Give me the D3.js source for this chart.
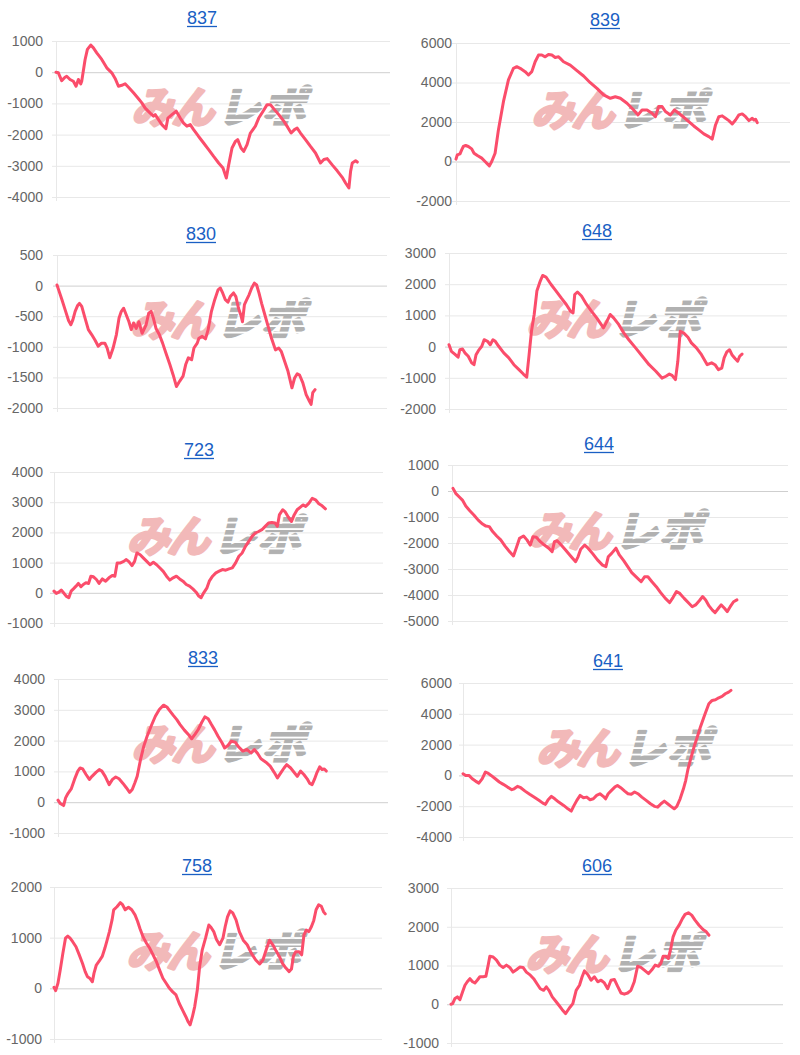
<!DOCTYPE html>
<html>
<head>
<meta charset="utf-8">
<script src="https://cdn.jsdelivr.net/npm/d3@7"></script>
<style>
  html, body { margin: 0; padding: 0; background: #fff; }
  svg { display: block; }
</style>
</head>
<body>
<svg id="chart" width="800" height="1055"></svg>
<script>
// ---------- DATA ----------
const titles = ["837", "839", "830", "648", "723", "644", "833", "641", "758", "606"];

const ticks837 = [1000, 0, -1000, -2000, -3000, -4000];
const ticks839 = [6000, 4000, 2000, 0, -2000];
const ticks830 = [500, 0, -500, -1000, -1500, -2000];
const ticks648 = [3000, 2000, 1000, 0, -1000, -2000];
const ticks723 = [4000, 3000, 2000, 1000, 0, -1000];
const ticks644 = [1000, 0, -1000, -2000, -3000, -4000, -5000];
const ticks833 = [4000, 3000, 2000, 1000, 0, -1000];
const ticks641 = [6000, 4000, 2000, 0, -2000, -4000];
const ticks758 = [2000, 1000, 0, -1000];
const ticks606 = [3000, 2000, 1000, 0, -1000];

// [progress (0-1000), balance]
const s837 = [[0,0],[7,-20],[17,-270],[27,-160],[32,-130],[42,-235],[52,-290],[60,-450],[67,-235],[74,-375],[77,-290],[87,400],[94,730],[104,870],[112,780],[122,620],[137,410],[152,140],[167,-20],[177,-200],[187,-450],[197,-420],[207,-370],[217,-480],[232,-660],[247,-850],[257,-985],[267,-1150],[282,-1310],[292,-1410],[297,-1360],[307,-1520],[317,-1680],[329,-1810],[335,-1470],[347,-1360],[360,-1250],[372,-1470],[382,-1630],[392,-1730],[402,-1680],[412,-1840],[427,-2060],[442,-2270],[457,-2480],[472,-2700],[487,-2910],[500,-3070],[510,-3390],[517,-2970],[527,-2430],[537,-2220],[544,-2160],[554,-2430],[562,-2540],[572,-2320],[582,-1950],[597,-1730],[607,-1470],[620,-1250],[632,-1040],[642,-1040],[654,-1200],[667,-1360],[682,-1570],[694,-1770],[704,-1950],[714,-1840],[722,-1790],[732,-1950],[747,-2160],[762,-2380],[777,-2590],[792,-2910],[802,-2800],[812,-2770],[827,-2970],[842,-3160],[857,-3370],[867,-3550],[877,-3710],[882,-3180],[887,-2910],[897,-2840],[902,-2880]];

const s839 = [[0,120],[4,340],[12,390],[17,590],[22,760],[29,810],[37,760],[47,640],[54,420],[64,300],[77,170],[87,0],[94,-120],[100,-220],[107,0],[117,420],[127,1600],[142,3030],[157,4130],[172,4720],[182,4800],[192,4720],[207,4550],[217,4380],[227,4550],[237,5050],[247,5390],[257,5390],[267,5300],[277,5420],[287,5390],[297,5270],[307,5300],[312,5220],[322,5050],[342,4880],[362,4600],[382,4330],[402,3990],[422,3700],[442,3370],[462,3200],[477,3280],[492,3200],[512,2950],[532,2610],[545,2360],[557,2610],[572,2610],[587,2440],[597,2270],[607,2780],[617,2780],[627,2530],[642,2360],[654,2610],[667,2440],[682,2240],[697,2020],[712,1800],[727,1600],[742,1400],[757,1260],[767,1130],[777,1850],[787,2270],[797,2310],[807,2190],[817,2070],[827,1900],[837,2100],[847,2360],[857,2410],[867,2270],[877,2070],[887,2190],[892,2100],[897,2140],[902,1970]];

const s830 = [[0,10],[5,-70],[15,-230],[25,-400],[35,-570],[42,-640],[48,-560],[55,-420],[62,-330],[68,-290],[75,-340],[85,-530],[95,-720],[105,-800],[115,-890],[125,-990],[135,-940],[145,-940],[152,-1020],[160,-1180],[170,-1020],[180,-800],[188,-530],[195,-420],[202,-370],[210,-480],[218,-590],[225,-720],[232,-610],[240,-700],[248,-590],[258,-780],[270,-640],[278,-450],[285,-420],[292,-530],[300,-700],[310,-800],[320,-940],[330,-1100],[342,-1290],[352,-1460],[362,-1650],[372,-1560],[382,-1480],[390,-1290],[398,-1180],[408,-1210],[415,-1020],[425,-940],[430,-860],[440,-830],[450,-870],[458,-720],[468,-420],[478,-230],[488,-70],[495,-40],[502,-120],[510,-230],[518,-270],[525,-180],[535,-120],[542,-180],[550,-370],[557,-480],[562,-590],[568,-310],[575,-230],[582,-150],[590,-40],[598,40],[605,10],[612,-120],[620,-290],[630,-480],[640,-670],[650,-860],[662,-1050],[672,-1020],[680,-1080],[690,-1240],[700,-1400],[712,-1670],[720,-1510],[728,-1440],[735,-1460],[745,-1590],[755,-1780],[765,-1890],[770,-1940],[775,-1750],[782,-1700]];

const s648 = [[0,60],[7,-150],[17,-240],[27,-340],[32,-100],[40,-75],[47,-200],[57,-310],[67,-520],[74,-580],[80,-260],[87,-130],[97,10],[104,220],[114,170],[122,60],[130,220],[137,170],[147,10],[162,-200],[177,-360],[192,-580],[207,-740],[220,-880],[230,-980],[237,-260],[244,490],[252,1030],[260,1780],[270,2100],[277,2280],[287,2230],[302,1990],[317,1780],[332,1560],[347,1350],[360,1130],[367,1080],[372,1670],[380,1750],[392,1620],[407,1350],[422,1130],[437,920],[450,710],[457,600],[467,810],[477,1030],[487,920],[502,710],[517,440],[532,220],[552,-40],[572,-310],[592,-580],[612,-790],[630,-1010],[642,-950],[652,-880],[660,-920],[670,-1060],[677,-470],[684,490],[694,440],[707,300],[717,120],[732,-40],[747,-260],[764,-580],[777,-520],[787,-580],[797,-740],[807,-690],[814,-360],[822,-170],[830,-100],[837,-260],[847,-390],[854,-470],[860,-310],[867,-240]];

const s723 = [[0,55],[7,-20],[15,20],[22,90],[29,0],[37,-110],[45,-165],[52,55],[59,130],[67,220],[74,310],[82,200],[89,275],[97,330],[105,310],[112,550],[120,530],[129,440],[137,310],[147,460],[157,385],[167,495],[177,570],[185,550],[192,990],[202,990],[212,1040],[219,1100],[227,1040],[237,900],[245,1040],[252,1320],[262,1260],[272,1150],[282,1040],[292,930],[302,1010],[312,930],[322,820],[332,710],[342,550],[352,420],[362,495],[372,550],[382,460],[392,385],[402,275],[412,220],[422,130],[432,20],[440,-110],[447,-165],[455,0],[465,165],[472,385],[482,550],[492,660],[502,715],[512,770],[522,750],[532,790],[542,825],[552,990],[562,1210],[572,1320],[582,1540],[592,1700],[602,1870],[612,1980],[622,2030],[632,2090],[642,2200],[652,2310],[662,2330],[672,2310],[679,2200],[685,2580],[695,2750],[702,2690],[712,2510],[722,2360],[730,2580],[739,2750],[749,2840],[757,2910],[765,2860],[775,2970],[785,3130],[795,3080],[805,2950],[815,2880],[825,2780]];

const s644 = [[3,100],[11,-90],[21,-220],[31,-350],[41,-580],[53,-760],[65,-920],[78,-1120],[91,-1270],[101,-1350],[111,-1370],[121,-1560],[133,-1730],[145,-1880],[158,-2120],[171,-2330],[183,-2500],[191,-2200],[201,-1820],[213,-1730],[223,-1880],[233,-2080],[241,-1760],[251,-1780],[263,-1950],[275,-2080],[288,-2200],[298,-2330],[305,-1950],[313,-1910],[325,-2080],[338,-2270],[353,-2500],[368,-2720],[375,-2530],[383,-2240],[395,-2080],[405,-2200],[418,-2400],[433,-2650],[448,-2850],[458,-2910],[465,-2530],[475,-2400],[488,-2200],[498,-2460],[511,-2680],[523,-2910],[535,-3140],[548,-3300],[563,-3490],[573,-3300],[583,-3300],[595,-3490],[608,-3680],[621,-3910],[635,-4130],[648,-4290],[658,-4090],[668,-3870],[678,-3940],[691,-4130],[705,-4320],[715,-4450],[725,-4380],[736,-4220],[746,-4060],[755,-4190],[765,-4420],[775,-4580],[783,-4680],[793,-4510],[801,-4380],[811,-4510],[819,-4640],[828,-4450],[838,-4260],[848,-4190]];

const s833 = [[0,65],[7,-45],[17,-110],[23,140],[30,280],[40,430],[50,740],[60,1010],[67,1110],[75,1080],[85,900],[95,740],[103,840],[115,970],[125,1060],[133,1010],[143,840],[155,570],[165,740],[175,820],[185,760],[197,610],[207,470],[217,320],[225,410],[233,630],[240,840],[250,1380],[260,1820],[270,2140],[283,2490],[295,2790],[307,3010],[320,3150],[330,3090],[340,2950],[350,2810],[360,2680],[370,2520],[383,2340],[395,2200],[405,2060],[415,2200],[425,2360],[435,2580],[445,2770],[455,2710],[465,2520],[475,2340],[485,2140],[497,1930],[505,1760],[515,1840],[525,1980],[537,1950],[547,1800],[560,1660],[573,1710],[585,1600],[595,1710],[605,1580],[615,1410],[630,1300],[643,1170],[655,970],[665,790],[675,950],[685,1110],[693,1220],[705,1110],[717,950],[725,840],[735,1010],[745,900],[755,760],[763,610],[770,570],[777,740],[785,970],[793,1150],[800,1060],[807,1080],[813,1010]];

const s641 = [[0,110],[8,0],[18,0],[28,-220],[38,-370],[48,-500],[58,-220],[68,220],[75,150],[85,0],[98,-220],[110,-430],[122,-580],[135,-760],[148,-930],[155,-870],[165,-710],[175,-800],[188,-1020],[202,-1230],[215,-1410],[230,-1620],[242,-1800],[250,-1880],[258,-1580],[268,-1360],[278,-1520],[290,-1730],[305,-1950],[318,-2170],[328,-2320],[335,-2010],[345,-1620],[355,-1300],[365,-1450],[375,-1410],[385,-1580],[395,-1520],[405,-1300],[415,-1190],[425,-1360],[432,-1520],[440,-1190],[450,-970],[460,-760],[468,-650],[478,-800],[490,-1020],[500,-1190],[510,-1230],[520,-1080],[530,-1190],[542,-1410],[555,-1620],[568,-1840],[580,-2010],[590,-2060],[600,-1840],[610,-1670],[620,-1840],[630,-2010],[640,-2170],[648,-2010],[658,-1520],[668,-870],[675,-320],[682,430],[690,1080],[700,1840],[710,2490],[720,3180],[732,3900],[745,4650],[755,4870],[765,4910],[775,5040],[785,5130],[795,5300],[805,5410],[812,5520]];

const s758 = [[0,20],[5,-45],[12,100],[19,360],[27,690],[35,990],[42,1030],[49,990],[57,920],[67,820],[77,660],[87,490],[95,330],[102,230],[109,200],[117,130],[122,300],[129,460],[137,530],[147,630],[155,790],[162,950],[169,1120],[177,1350],[182,1550],[192,1610],[202,1690],[209,1650],[217,1550],[227,1600],[237,1550],[247,1450],[255,1320],[262,1180],[272,1010],[282,890],[292,790],[302,660],[312,530],[322,360],[332,200],[342,100],[352,0],[362,-70],[372,-130],[382,-300],[392,-430],[402,-560],[409,-660],[415,-720],[422,-560],[429,-360],[437,-30],[444,430],[452,760],[462,990],[472,1250],[479,1200],[487,1120],[495,970],[505,860],[515,990],[522,1220],[529,1410],[537,1530],[545,1490],[555,1350],[565,1120],[577,950],[589,860],[602,690],[615,560],[627,480],[637,560],[647,760],[657,950],[667,860],[677,740],[687,630],[697,490],[707,400],[717,330],[724,380],[730,640],[737,720],[747,720],[755,660],[762,1050],[769,1150],[777,1120],[785,1220],[792,1340],[799,1550],[807,1650],[815,1620],[822,1510],[827,1470]];

const s606 = [[0,0],[5,15],[12,150],[19,190],[27,120],[35,320],[42,490],[49,580],[57,660],[65,580],[72,550],[79,620],[87,710],[97,710],[105,720],[112,1010],[117,1240],[127,1220],[137,1140],[147,1010],[157,950],[167,1010],[177,950],[187,830],[197,890],[207,960],[217,950],[227,830],[239,750],[249,660],[259,530],[269,400],[279,360],[287,450],[295,360],[305,190],[315,85],[325,-25],[335,-140],[345,-240],[352,-155],[359,-70],[367,15],[377,360],[387,490],[395,710],[402,860],[412,770],[422,620],[432,710],[442,580],[452,620],[462,550],[472,400],[482,620],[492,640],[502,460],[512,290],[522,260],[532,290],[542,360],[552,580],[562,980],[572,950],[585,860],[595,790],[605,890],[615,1010],[625,980],[632,1050],[639,1240],[647,1240],[655,1180],[662,1440],[669,1740],[677,1910],[687,2040],[697,2210],[705,2320],[715,2360],[725,2300],[735,2170],[747,2040],[759,1930],[769,1870],[777,1780]];

const seriesList = [s837, s839, s830, s648, s723, s644, s833, s641, s758, s606];
const tickList = [ticks837, ticks839, ticks830, ticks648, ticks723, ticks644, ticks833, ticks641, ticks758, ticks606];
const progressMax = 1000;

// ---------- LAYOUT (pixel geometry of each small panel) ----------
const layout = [
  {left: 56,  right: 390, top: 41,  bottom: 197,  labelRight: 43,  tx: 202, ty: 18},
  {left: 456, right: 790, top: 43,  bottom: 201,  labelRight: 452, tx: 605, ty: 20},
  {left: 57,  right: 387, top: 255, bottom: 408,  labelRight: 43,  tx: 201, ty: 234},
  {left: 449, right: 787, top: 253, bottom: 409,  labelRight: 436, tx: 597, ty: 231},
  {left: 54,  right: 383, top: 472, bottom: 623,  labelRight: 43,  tx: 199, ty: 450},
  {left: 452, right: 788, top: 465, bottom: 621,  labelRight: 439, tx: 599, ty: 444},
  {left: 58,  right: 388, top: 679, bottom: 833,  labelRight: 45,  tx: 203, ty: 658},
  {left: 463, right: 793, top: 683, bottom: 837,  labelRight: 452, tx: 608, ty: 661},
  {left: 54,  right: 382, top: 887, bottom: 1039, labelRight: 42,  tx: 197, ty: 866},
  {left: 451, right: 783, top: 888, bottom: 1043, labelRight: 439, tx: 597, ty: 866}
];

const svg = d3.select("#chart");
const defs = svg.append("defs");
const pat = defs.append("pattern")
  .attr("id", "stripe").attr("patternUnits", "userSpaceOnUse")
  .attr("width", 8).attr("height", 6.5);
pat.append("rect").attr("width", 8).attr("height", 6.5).attr("fill", "#b1b1b1");
pat.append("rect").attr("y", 4.6).attr("width", 8).attr("height", 1.9).attr("fill", "#ffffff");

const lineColor = "#fb4d6b";

seriesList.forEach((data, i) => {
  const L = layout[i];
  const ticks = tickList[i];
  const g = svg.append("g");

  const x = d3.scaleLinear().domain([0, progressMax]).range([L.left, L.right]);
  const y = d3.scaleLinear().domain([d3.min(ticks), d3.max(ticks)]).range([L.bottom, L.top]);

  // gridlines
  g.append("g").selectAll("line").data(ticks).join("line")
    .attr("x1", L.left - 4).attr("x2", L.right)
    .attr("y1", d => y(d) + 0.5).attr("y2", d => y(d) + 0.5)
    .attr("stroke", d => d === 0 ? "#cfcfcf" : "#e8e8e8")
    .attr("stroke-width", 1);
  g.append("line")
    .attr("x1", L.left + 0.5).attr("x2", L.left + 0.5)
    .attr("y1", L.top).attr("y2", L.bottom + 4)
    .attr("stroke", "#e8e8e8");

  // y axis labels
  const axis = d3.axisLeft(y).tickValues(ticks).tickSize(0)
    .tickPadding(L.left - L.labelRight).tickFormat(d => String(d));
  const ag = g.append("g").attr("transform", `translate(${L.left},0)`).call(axis);
  ag.select(".domain").remove();
  ag.selectAll("text")
    .attr("font-family", "'Liberation Sans', Arial, Helvetica, sans-serif")
    .attr("font-size", 14).attr("fill", "#666");

  // watermark
  const cx = (L.left + L.right) / 2;
  const cy = (L.top + L.bottom) / 2 - 11;
  const wm = g.append("g").attr("transform", `translate(${cx},${cy}) skewX(-14)`);
  wm.append("text").text("みん")
    .attr("x", -8).attr("y", 15).attr("text-anchor", "end")
    .attr("font-family", "'Noto Sans CJK JP', sans-serif").attr("font-weight", 700)
    .attr("font-size", 43).attr("fill", "#f2b9b9")
    .attr("stroke", "#f2b9b9").attr("stroke-width", 3).attr("stroke-linejoin", "round")
    .attr("letter-spacing", -3);
  wm.append("text").text("レポ")
    .attr("x", -2).attr("y", 15).attr("text-anchor", "start")
    .attr("font-family", "'Noto Sans CJK JP', sans-serif").attr("font-weight", 700)
    .attr("font-size", 43).attr("fill", "url(#stripe)")
    .attr("stroke", "url(#stripe)").attr("stroke-width", 3).attr("stroke-linejoin", "round")
    .attr("letter-spacing", 2);

  // data line
  const line = d3.line().x(d => x(d[0])).y(d => y(d[1]));
  g.append("path").datum(data)
    .attr("d", line).attr("fill", "none")
    .attr("stroke", lineColor).attr("stroke-width", 3)
    .attr("stroke-linejoin", "round").attr("stroke-linecap", "round");

  // title
  const t = g.append("text").text(titles[i])
    .attr("x", L.tx).attr("y", L.ty + 6).attr("text-anchor", "middle")
    .attr("font-family", "'Liberation Sans', Arial, Helvetica, sans-serif")
    .attr("font-size", 18).attr("fill", "#1a5fc4");
  const bb = t.node().getBBox();
  g.append("line")
    .attr("x1", bb.x).attr("x2", bb.x + bb.width)
    .attr("y1", L.ty + 8.5).attr("y2", L.ty + 8.5)
    .attr("stroke", "#1a5fc4").attr("stroke-width", 1.3);
});
</script>
</body>
</html>
